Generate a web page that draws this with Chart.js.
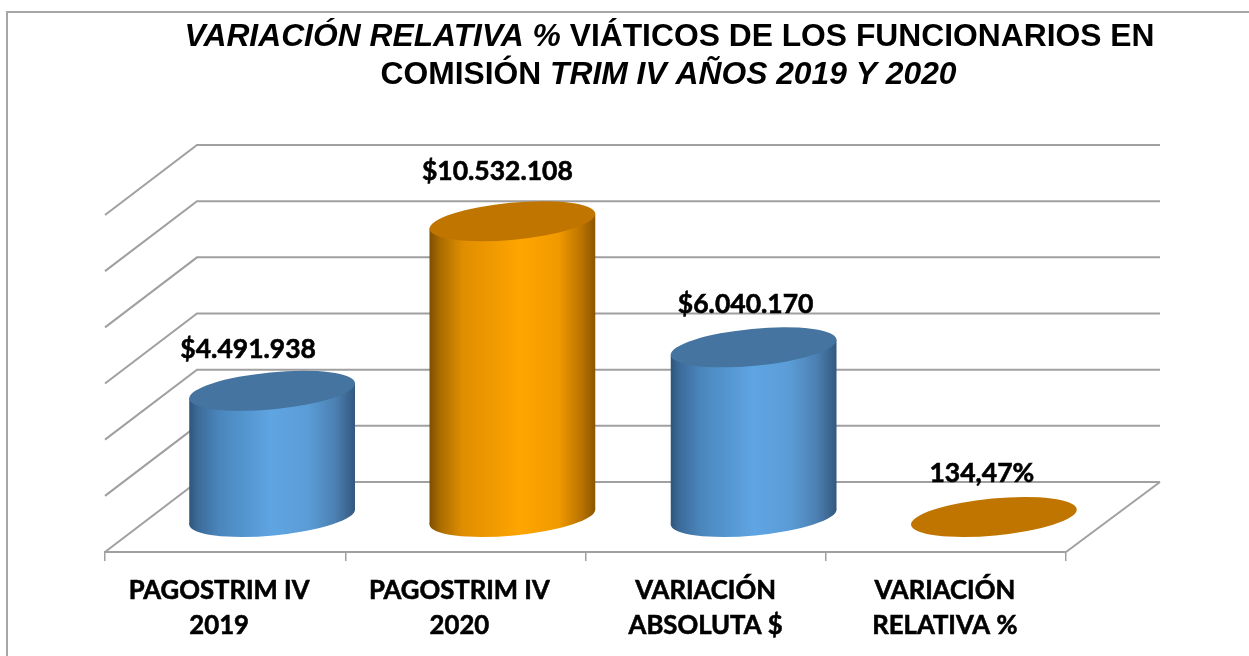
<!DOCTYPE html>
<html><head><meta charset="utf-8">
<style>html,body{margin:0;padding:0;background:#fff;overflow:hidden}canvas{display:block}</style>
<script src="https://cdn.jsdelivr.net/npm/chart.js@4"></script>
</head><body>
<canvas id="c" width="1249" height="656"></canvas>
<script>
const categories = [["PAGOSTRIM IV","2019"],["PAGOSTRIM IV","2020"],["VARIACIÓN","ABSOLUTA $"],["VARIACIÓN","RELATIVA %"]];
const values = [4491938, 10532108, 6040170, 134.47];
const valueLabels = ["$4.491.938","$10.532.108","$6.040.170","134,47%"];
const barKinds = ["blue","orange","blue","orange"];
const titleLine1 = [["VARIACIÓN RELATIVA %",true],[" VIÁTICOS DE LOS FUNCIONARIOS EN",false]];
const titleLine2 = [["COMISIÓN ",false],["TRIM IV AÑOS 2019 Y 2020",true]];

const GRID='#a0a0a0';
const BACK={x:92,y:-70};
const MID={x:47,y:-35};
const BAR_NUDGE=[0,0,1,1];
const LABEL_NUDGE=[[-24,-41],[-15,-50],[-8,-43],[-12,-44]];
const TICK_NUDGE=[-6,-6,0,-1];
const PAL={
 blue:{top:'#44749f',stops:[[0,'#2f557a'],[.05,'#3b6a98'],[.18,'#4a86bc'],[.5,'#5fa5e3'],[.72,'#5a9cd6'],[.88,'#4c80b2'],[1,'#33587f']]},
 orange:{top:'#c07500',stops:[[0,'#7e4e00'],[.06,'#a86a00'],[.2,'#e08e00'],[.55,'#ffa500'],[.78,'#f09a00'],[.92,'#b87200'],[1,'#8a5600']]}
};
function mixedLine(ctx,parts,cx,y){
  const f=i=>(i?'italic ':'')+'bold 31.8px "Liberation Sans"';
  let w=0;parts.forEach(p=>{ctx.font=f(p[1]);w+=ctx.measureText(p[0]).width;});
  let x=cx-w/2;ctx.textAlign='left';ctx.textBaseline='alphabetic';ctx.fillStyle='#000';
  parts.forEach(p=>{ctx.font=f(p[1]);ctx.fillText(p[0],x,y);x+=ctx.measureText(p[0]).width;});
}
const scene={id:'scene',
 beforeDraw(chart){
  const ctx=chart.ctx,y=chart.scales.y,a=chart.chartArea;
  ctx.save();
  ctx.strokeStyle='#a6a6a6';ctx.lineWidth=2;
  ctx.beginPath();ctx.moveTo(7,656);ctx.lineTo(7,12);ctx.lineTo(1249,12);ctx.stroke();
  ctx.strokeStyle=GRID;ctx.lineWidth=2;ctx.lineJoin='miter';
  y.ticks.forEach(t=>{
    const p=y.getPixelForValue(t.value);
    ctx.beginPath();ctx.moveTo(a.left,p);ctx.lineTo(a.left+BACK.x,p+BACK.y);ctx.lineTo(a.right+BACK.x+2,p+BACK.y);ctx.stroke();
  });
  ctx.beginPath();ctx.moveTo(a.right,a.bottom);ctx.lineTo(a.right+BACK.x+2,a.bottom+BACK.y);ctx.stroke();
  mixedLine(ctx,titleLine1,669.5,46);
  mixedLine(ctx,titleLine2,668.5,84);
  ctx.restore();
  chart.scales.x.getLabelItems().forEach((it,i)=>{
    if(!it._s){it.options.translation[0]+=TICK_NUDGE[i]||0;it._s=true;}
  });
 },
 afterDatasetsDraw(chart){
  const ctx=chart.ctx,meta=chart.getDatasetMeta(0);
  const th=-5.4*Math.PI/180;
  meta.data.forEach((bar,i)=>{
    const pal=PAL[barKinds[i]];
    const W=bar.width/2,cx=bar.x+MID.x+BAR_NUDGE[i],yT=bar.y+MID.y,yB=bar.base+MID.y;
    const H=20,sk=7.5;
    const diff=(W*W-H*H)/Math.cos(2*Math.abs(th)),sum=W*W+H*H;
    const ra=Math.sqrt((sum+diff)/2),rb=Math.sqrt((sum-diff)/2);
    ctx.save();
    if(yB-yT>2){
      const g=ctx.createLinearGradient(cx-W,0,cx+W,0);
      pal.stops.forEach(s=>g.addColorStop(s[0],s[1]));
      ctx.fillStyle=g;
      ctx.beginPath();ctx.ellipse(cx,yB,ra,rb,th,0,Math.PI*2);ctx.fill();
      ctx.beginPath();ctx.moveTo(cx-W,yT+sk);ctx.lineTo(cx+W,yT-sk);ctx.lineTo(cx+W,yB-sk);ctx.lineTo(cx-W,yB+sk);ctx.closePath();ctx.fill();
    }
    ctx.fillStyle=pal.top;
    ctx.beginPath();ctx.ellipse(cx,yT,ra,rb,th,0,Math.PI*2);ctx.fill();
    ctx.fillStyle='#000';ctx.strokeStyle='#000';ctx.lineWidth=.6;ctx.font='bold 26.5px Lato';ctx.textAlign='center';ctx.textBaseline='middle';
    ctx.fillText(valueLabels[i],cx+LABEL_NUDGE[i][0],yT+LABEL_NUDGE[i][1]);
    ctx.strokeText(valueLabels[i],cx+LABEL_NUDGE[i][0],yT+LABEL_NUDGE[i][1]);
    ctx.restore();
  });
 }
};
new Chart(document.getElementById('c'),{
 type:'bar',
 data:{labels:categories,datasets:[{data:values,backgroundColor:'rgba(0,0,0,0)',borderWidth:0,barPercentage:.69,categoryPercentage:1}]},
 plugins:[scene],
 options:{responsive:false,animation:false,devicePixelRatio:1,
  layout:{padding:{left:105,right:183,top:215,bottom:0}},
  plugins:{legend:{display:false},tooltip:{enabled:false},title:{display:false}},
  scales:{
   x:{afterFit(s){s.height=104;},
      grid:{display:true,drawOnChartArea:false,drawTicks:true,tickLength:9,color:GRID,lineWidth:1.5,offset:true},
      border:{display:true,color:GRID,width:2},
      ticks:{color:'#000',textStrokeColor:'#000',textStrokeWidth:.6,font:{family:'Lato',weight:'bold',size:25.7,lineHeight:1.36},padding:12.5,maxRotation:0,autoSkip:false}},
   y:{display:false,min:0,max:12000000,ticks:{stepSize:2000000}}
  }
 }
});
</script></body></html>
